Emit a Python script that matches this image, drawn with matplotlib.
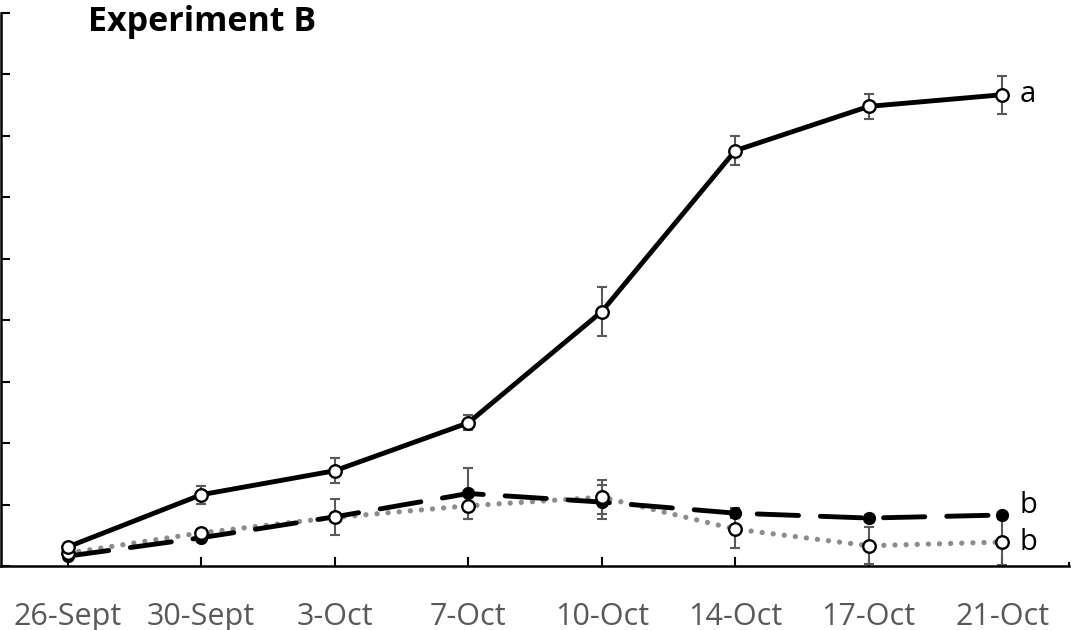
import matplotlib.pyplot as plt
import numpy as np

# data
dates = ['26-Sept', '30-Sept', '3-Oct', '7-Oct', '10-Oct', '14-Oct', '17-Oct', '21-Oct']

solid_vals = [3.1, 11.6, 15.5, 23.3, 41.4, 67.6, 74.8, 76.7]
solid_err = [0.5, 1.5, 2.0, 1.2, 4.0, 2.4, 2.0, 3.1]

dashed_vals = [1.6, 4.6, 8.0, 11.8, 10.4, 8.6, 7.8, 8.3]
dashed_err = [0.4, 0.6, 2.9, 4.1, 2.8, 0.8, 0.5, 0.4]

dotted_vals = [2.1, 5.4, 7.9, 9.8, 11.2, 6.0, 3.3, 3.9]
dotted_err = [0.4, 0.6, 0.8, 2.2, 2.8, 3.0, 3.0, 3.8]

sig_letters = ['a', 'b', 'b']

plt.rcParams['font.family'] = ['Open Sans', 'DejaVu Sans']

fig = plt.figure(figsize=(10.71, 6.3), dpi=100)
ax = fig.add_axes([1 / 1071, 64 / 630, 1068 / 1071, 553 / 630])

x = np.arange(len(dates))
ecol = '#595959'
lw = 3.5

ax.errorbar(x, dotted_vals, yerr=dotted_err, fmt='none', ecolor=ecol,
            elinewidth=1.5, capsize=3.7, capthick=1.5, zorder=2)
ax.plot(x, dotted_vals, color='#8c8c8c', linestyle=(0, (0.01, 2.1)),
        dash_capstyle='round', linewidth=3.8, zorder=3)
ax.plot(x, dotted_vals, linestyle='none', marker='o', markersize=9,
        markerfacecolor='white', markeredgecolor='black', markeredgewidth=1.7, zorder=6)

ax.errorbar(x, dashed_vals, yerr=dashed_err, fmt='none', ecolor=ecol,
            elinewidth=1.5, capsize=3.7, capthick=1.5, zorder=2)
ax.plot(x, dashed_vals, color='black', linestyle=(0, (8.5, 4.5)),
        linewidth=lw, dash_capstyle='round', marker='o', markersize=8.5,
        markerfacecolor='black', markeredgecolor='black', zorder=5)

ax.errorbar(x, solid_vals, yerr=solid_err, fmt='none', ecolor=ecol,
            elinewidth=1.5, capsize=3.7, capthick=1.5, zorder=2)
ax.plot(x, solid_vals, color='black', linewidth=lw, marker='o', markersize=9,
        markerfacecolor='white', markeredgecolor='black', markeredgewidth=1.7, zorder=7)

# significance letters next to the last points (upper "b" nudged up a little)
letter_nudge = [0, 1.6, 0]
for val, letter, dy in zip([solid_vals[-1], dashed_vals[-1], dotted_vals[-1]],
                           sig_letters, letter_nudge):
    ax.text(x[-1] + 0.13, val + dy, letter, fontsize=21, va='center', ha='left', color='black')

ax.set_xlim(-0.5, len(dates) - 0.5)
ax.set_ylim(0, 90)
ax.set_yticks(np.arange(0, 91, 10))
ax.set_yticklabels([])
ax.set_xticks(x)
ax.set_xticklabels(dates, color='#595959', fontsize=22)
ax.set_xticks([len(dates) - 0.5], minor=True)

ax.tick_params(axis='y', direction='in', length=6.5, width=1.5)
ax.tick_params(axis='x', which='major', direction='in', length=6.5, width=1.5, pad=26)
ax.tick_params(axis='x', which='minor', direction='in', length=3, width=1.5)

for side in ['top', 'right']:
    ax.spines[side].set_visible(False)
for side in ['left', 'bottom']:
    ax.spines[side].set_linewidth(1.8)

fig.text(88 / 1071, 1 - 22 / 630, 'Experiment B', fontsize=24.5, fontweight='bold',
         va='center', ha='left')

fig.savefig('out.png', dpi=100)
